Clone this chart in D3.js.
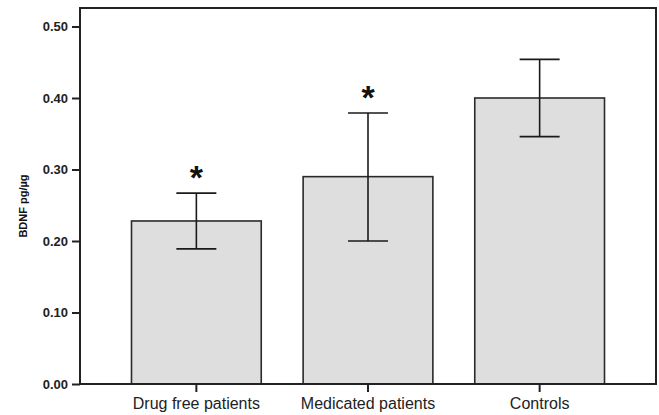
<!DOCTYPE html>
<html>
<head>
<meta charset="utf-8">
<script src="https://cdn.jsdelivr.net/npm/d3@7"></script>
<style>
  body { margin: 0; background: #fff; }
  text { font-family: "Liberation Sans", Arial, sans-serif; }
</style>
</head>
<body>
<div id="chart"></div>
<script>
const categories = ['Drug free patients', 'Medicated patients', 'Controls'];
const means = [0.228, 0.290, 0.400];
const errLow = [0.189, 0.200, 0.346];
const errHigh = [0.267, 0.379, 0.454];
const marked = ['*', '*', ''];
const yTicks = [0, 0.1, 0.2, 0.3, 0.4, 0.5];

const width = 659;
const height = 415;
const plotLeft = 80;
const plotRight = 656;
const plotTop = 8;
const plotBottom = 384;

const svg = d3.select('#chart')
              .append('svg')
              .attr('width', width)
              .attr('height', height);

const xScale = d3.scaleBand()
                 .domain(categories)
                 .range([plotLeft, plotRight])
                 .paddingInner(0.244)
                 .paddingOuter(0.3);

const yScale = d3.scaleLinear()
                 .domain([0, 0.5])
                 .range([plotBottom, 26.5]);

const rows = categories.map((c, i) => ({ c: c, m: means[i], lo: errLow[i], hi: errHigh[i], s: marked[i] }));
const mid = d => xScale(d.c) + xScale.bandwidth() / 2;

//bars
svg.selectAll('rect.bar')
   .data(rows)
   .enter()
   .append('rect')
   .attr('class', 'bar')
   .attr('x', d => xScale(d.c))
   .attr('y', d => yScale(d.m))
   .attr('width', xScale.bandwidth())
   .attr('height', d => plotBottom - yScale(d.m))
   .attr('fill', '#dedede')
   .attr('stroke', '#2a2a2a')
   .attr('stroke-width', 1.6);

//error bars
const capHalf = 20;
const err = svg.selectAll('g.err')
               .data(rows)
               .enter()
               .append('g')
               .attr('class', 'err')
               .attr('stroke', '#1a1a1a')
               .attr('stroke-width', 1.6);

err.append('line')
   .attr('x1', mid)
   .attr('x2', mid)
   .attr('y1', d => yScale(d.hi))
   .attr('y2', d => yScale(d.lo));

err.append('line')
   .attr('x1', d => mid(d) - capHalf)
   .attr('x2', d => mid(d) + capHalf)
   .attr('y1', d => yScale(d.hi))
   .attr('y2', d => yScale(d.hi));

err.append('line')
   .attr('x1', d => mid(d) - capHalf)
   .attr('x2', d => mid(d) + capHalf)
   .attr('y1', d => yScale(d.lo))
   .attr('y2', d => yScale(d.lo));

//asterisks
svg.selectAll('text.star')
   .data(rows.filter(d => d.s))
   .enter()
   .append('text')
   .attr('class', 'star')
   .text(d => d.s)
   .attr('x', mid)
   .attr('y', d => yScale(d.hi) - 4)
   .attr('text-anchor', 'middle')
   .attr('font-size', 34)
   .attr('font-weight', 'bold')
   .attr('fill', '#111');

//frame
svg.append('rect')
   .attr('x', plotLeft)
   .attr('y', plotTop)
   .attr('width', plotRight - plotLeft)
   .attr('height', plotBottom - plotTop)
   .attr('fill', 'none')
   .attr('stroke', '#222')
   .attr('stroke-width', 2);

//y axis
const yAxis = d3.axisLeft(yScale)
                .tickValues(yTicks)
                .tickFormat(d3.format('.2f'))
                .tickSize(8)
                .tickPadding(4);

const gy = svg.append('g')
              .attr('transform', 'translate(' + plotLeft + ',0)')
              .call(yAxis);
gy.select('.domain').remove();
gy.selectAll('line').attr('stroke', '#222').attr('stroke-width', 2);
gy.selectAll('text')
  .attr('font-size', 13)
  .attr('font-weight', 'bold')
  .attr('fill', '#222')
  .style('font-family', '"Liberation Sans", Arial, sans-serif');

//x axis
const xAxis = d3.axisBottom(xScale)
                .tickSize(8)
                .tickPadding(6);

const gx = svg.append('g')
              .attr('transform', 'translate(0,' + plotBottom + ')')
              .call(xAxis);
gx.select('.domain').remove();
gx.selectAll('line').attr('stroke', '#222').attr('stroke-width', 2);
gx.selectAll('text')
  .attr('font-size', 16)
  .attr('fill', '#222')
  .style('font-family', '"Liberation Sans", Arial, sans-serif');

//y label
svg.append('text')
   .text('BDNF pg/µg')
   .attr('transform', 'translate(27,206) rotate(-90)')
   .attr('text-anchor', 'middle')
   .attr('font-size', 11)
   .attr('font-weight', 'bold')
   .attr('fill', '#111');
</script>
</body>
</html>
